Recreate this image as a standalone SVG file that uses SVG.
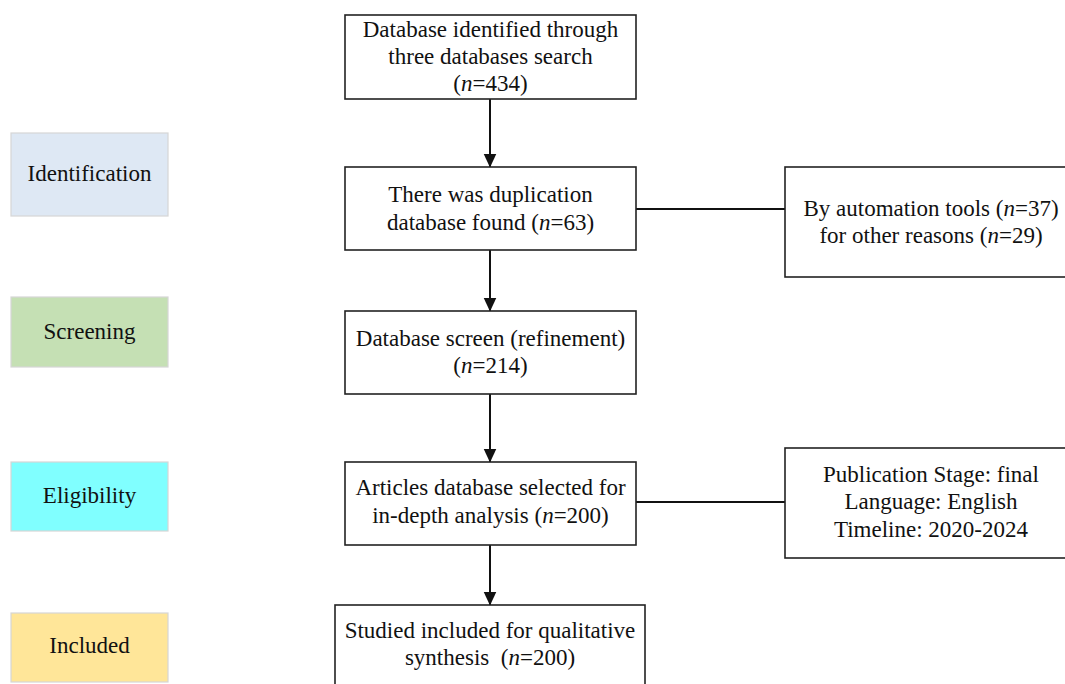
<svg xmlns="http://www.w3.org/2000/svg" width="1065" height="684" viewBox="0 0 1065 684">
<style>
text{font-family:"Liberation Serif","Times New Roman",serif;font-size:23px;fill:#111;text-anchor:middle}
.stage{stroke:#d6d6d6;stroke-width:1.2}
.box{fill:#fff;stroke:#222;stroke-width:1.6}
.con{stroke:#111;stroke-width:2;fill:none}
</style>
<defs>
<marker id="arr" markerWidth="14" markerHeight="14" refX="13.500" refY="6.500" orient="auto" markerUnits="userSpaceOnUse">
<path d="M0,0 L14,6.500 L0,13 Z" fill="#111"/>
</marker>
</defs>
<rect width="1065" height="684" fill="#fff"/>
<g id="stage-identification"><rect class="stage" x="11" y="133" width="157" height="83" fill="#dee8f4"/><text x="89.500" y="181">Identification</text></g>
<g id="stage-screening"><rect class="stage" x="11" y="297" width="157" height="70" fill="#c5e0b4"/><text x="89.500" y="339">Screening</text></g>
<g id="stage-eligibility"><rect class="stage" x="11" y="462" width="157" height="69" fill="#80ffff"/><text x="89.500" y="503">Eligibility</text></g>
<g id="stage-included"><rect class="stage" x="11" y="613" width="157" height="69" fill="#ffe699"/><text x="89.500" y="653">Included</text></g>
<g id="connectors">
<line class="con" x1="490" y1="99" x2="490" y2="167" marker-end="url(#arr)"/>
<line class="con" x1="490" y1="250" x2="490" y2="311" marker-end="url(#arr)"/>
<line class="con" x1="490" y1="394" x2="490" y2="462" marker-end="url(#arr)"/>
<line class="con" x1="490" y1="545" x2="490" y2="605" marker-end="url(#arr)"/>
<line class="con" x1="636" y1="209" x2="785" y2="209"/>
<line class="con" x1="636" y1="502" x2="785" y2="502"/>
</g>
<g id="node-identified"><rect class="box" x="345" y="15" width="291" height="84"/>
<text x="490.500" y="37">Database identified through</text>
<text x="490.500" y="64">three databases search</text>
<text x="490.500" y="91">(<tspan font-style="italic">n</tspan>=434)</text></g>
<g id="node-duplication"><rect class="box" x="345" y="167" width="291" height="83"/>
<text x="490.500" y="202">There was duplication</text>
<text x="490.500" y="230">database found (<tspan font-style="italic">n</tspan>=63)</text></g>
<g id="node-removed"><rect class="box" x="785" y="167" width="295" height="110"/>
<text x="931" y="216">By automation tools (<tspan font-style="italic">n</tspan>=37)</text>
<text x="931" y="243">for other reasons (<tspan font-style="italic">n</tspan>=29)</text></g>
<g id="node-screen"><rect class="box" x="345" y="311" width="291" height="83"/>
<text x="490.500" y="346">Database screen (refinement)</text>
<text x="490.500" y="373">(<tspan font-style="italic">n</tspan>=214)</text></g>
<g id="node-articles"><rect class="box" x="345" y="462" width="291" height="83"/>
<text x="490.500" y="495">Articles database selected for</text>
<text x="490.500" y="523">in-depth analysis (<tspan font-style="italic">n</tspan>=200)</text></g>
<g id="node-criteria"><rect class="box" x="785" y="448" width="295" height="110"/>
<text x="931" y="482">Publication Stage: final</text>
<text x="931" y="509">Language: English</text>
<text x="931" y="537">Timeline: 2020-2024</text></g>
<g id="node-included"><rect class="box" x="335" y="605" width="310" height="90"/>
<text x="490" y="638">Studied included for qualitative</text>
<text x="490" y="665" xml:space="preserve">synthesis  (<tspan font-style="italic">n</tspan>=200)</text></g>
</svg>
